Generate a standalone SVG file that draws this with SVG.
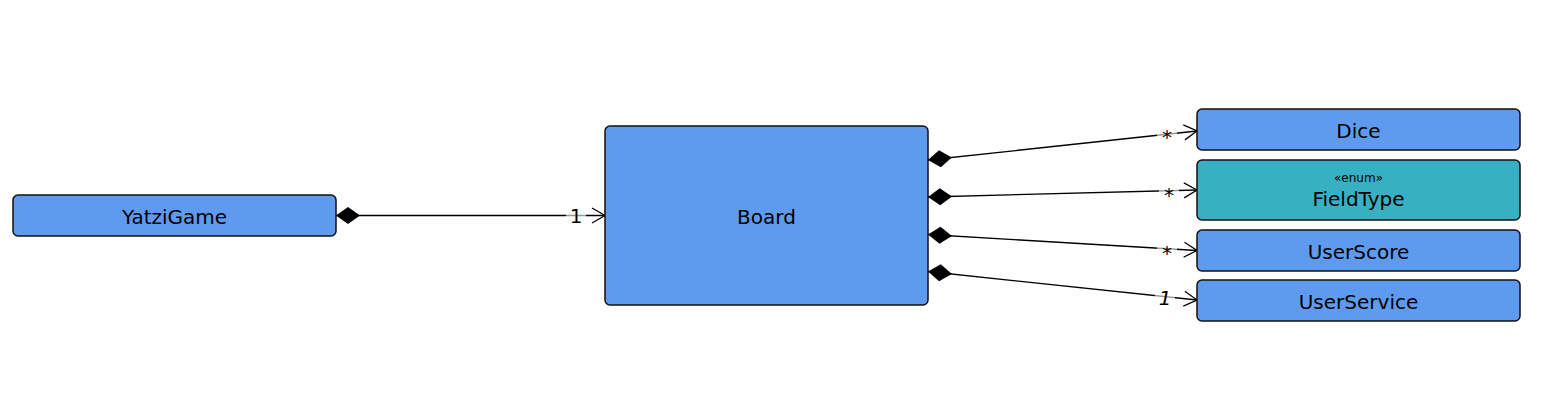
<svg xmlns="http://www.w3.org/2000/svg" width="1568" height="400" viewBox="0 0 1568 400">
  <style>
    .cls { fill: #5E9AEE; stroke: #111; stroke-width: 1.5; }
    .enum { fill: #36B0C2; stroke: #111; stroke-width: 1.5; }
    .name { font-family: "DejaVu Sans", "Liberation Sans", sans-serif; font-size: 20px; fill: #000; text-anchor: middle; }
    .stereo { font-family: "DejaVu Sans", "Liberation Sans", sans-serif; font-size: 12px; fill: #000; text-anchor: middle; }
    .conn { fill: none; stroke: #000; stroke-width: 1.3; marker-start: url(#diamond); marker-end: url(#open); }
    .lbl { font-family: "DejaVu Sans", "Liberation Sans", sans-serif; font-size: 20px; fill: #000; text-anchor: middle; }
    .lblbg { fill: #fff; opacity: 0.6; }
  </style>
  <defs>
    <marker id="diamond" markerUnits="userSpaceOnUse" markerWidth="26" markerHeight="20" viewBox="-1 -10 26 20" refX="0" refY="0" orient="auto">
      <path d="M0,0 L12,-8.5 L24,0 L12,8.5 Z" fill="#000"/>
    </marker>
    <marker id="open" markerUnits="userSpaceOnUse" markerWidth="18" markerHeight="20" viewBox="-16 -10 18 20" refX="0" refY="0" orient="auto">
      <path d="M-13,-7.5 L0,0 L-13,7.5" fill="none" stroke="#000" stroke-width="1.3"/>
    </marker>
  </defs>
  <rect width="1568" height="400" fill="#fff"/>

  <g id="connectors">
    <path class="conn" d="M336,215.5 L605,215.5"/>
    <path class="conn" d="M928,160 L1197,131"/>
    <path class="conn" d="M928,197 L1197,190"/>
    <path class="conn" d="M928,234.5 L1197,250.5"/>
    <path class="conn" d="M928,271.5 L1197,300"/>
    <rect class="lblbg" x="566" y="205" width="20" height="22"/>
    <text class="lbl" x="576" y="223">1</text>
    <rect class="lblbg" x="1157" y="122" width="20" height="22"/>
    <text class="lbl" x="1167" y="144">*</text>
    <rect class="lblbg" x="1159" y="180" width="20" height="22"/>
    <text class="lbl" x="1169" y="202">*</text>
    <rect class="lblbg" x="1157" y="238" width="20" height="22"/>
    <text class="lbl" x="1167" y="260">*</text>
    <rect class="lblbg" x="1155" y="288" width="20" height="22"/>
    <text class="lbl" x="1165" y="305" font-style="italic">1</text>
  </g>

  <g id="YatziGame">
    <rect class="cls" x="13" y="195" width="323" height="41" rx="5"/>
    <text class="name" x="174.5" y="224">YatziGame</text>
  </g>
  <g id="Board">
    <rect class="cls" x="605" y="126" width="323" height="179" rx="5"/>
    <text class="name" x="766.5" y="224">Board</text>
  </g>
  <g id="Dice">
    <rect class="cls" x="1197" y="109" width="323" height="41" rx="5"/>
    <text class="name" x="1358.5" y="138">Dice</text>
  </g>
  <g id="FieldType">
    <rect class="enum" x="1197" y="160" width="323" height="60" rx="5"/>
    <text class="stereo" x="1358.5" y="181.5">«enum»</text>
    <text class="name" x="1358.5" y="206">FieldType</text>
  </g>
  <g id="UserScore">
    <rect class="cls" x="1197" y="230" width="323" height="41" rx="5"/>
    <text class="name" x="1358.5" y="259">UserScore</text>
  </g>
  <g id="UserService">
    <rect class="cls" x="1197" y="280" width="323" height="41" rx="5"/>
    <text class="name" x="1358.5" y="309">UserService</text>
  </g>
</svg>
